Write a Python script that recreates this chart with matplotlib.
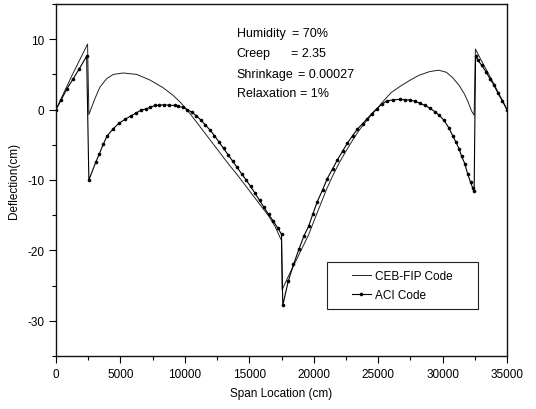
import matplotlib
matplotlib.use("Agg")
import matplotlib.pyplot as plt
from matplotlib.ticker import MultipleLocator
from matplotlib.patches import Rectangle

plt.rcParams['font.family'] = ['Liberation Sans', 'DejaVu Sans']
plt.rcParams['axes.unicode_minus'] = False

# ---- data ----
ceb_x = [0, 1200, 2450, 2550, 3030, 3410, 3930, 4450, 5220, 6260, 7290, 8320, 9100,
         9620, 10000, 10500, 11000, 11500, 12000, 12500, 13000, 13500, 14000, 14500,
         15000, 15500, 16000, 16500, 17000, 17500, 17550, 18000, 18400, 18800, 19200,
         19600, 20000, 20500, 21000, 21500, 22000, 22500, 23000, 23500, 24000, 24500,
         25000, 25500, 26000, 26700, 27500, 28200, 29000, 29700, 30300, 30800, 31300,
         31700, 32000, 32250, 32450, 32550, 33000, 34000, 35000]
ceb_y = [0, 4.7, 9.3, -0.7, 1.6, 3.2, 4.4, 5.0, 5.2, 5.0, 4.2, 3.1, 2.0,
         1.1, 0.3, -0.8, -2.0, -3.2, -4.4, -5.6, -6.8, -8.0, -9.1, -10.3,
         -11.5, -12.7, -13.9, -15.1, -16.6, -18.6, -25.6, -23.8, -22.3, -20.8, -19.3,
         -17.8, -15.9, -13.6, -11.3, -9.3, -7.5, -5.9, -4.4, -3.0, -1.8, -0.7,
         0.3, 1.4, 2.4, 3.3, 4.2, 4.9, 5.4, 5.6, 5.3, 4.5, 3.4,
         2.2, 1.0, -0.2, -0.8, 8.6, 7.0, 3.6, 0]

aci_x = [0, 410, 830, 1340, 1810, 2380, 2550, 3080, 3360, 3670, 3980, 4450, 4910,
         5350, 5800, 6210, 6570, 6980, 7290, 7680, 8010, 8400, 8790, 9230, 9490,
         9850, 10200, 10550, 10900, 11250, 11600, 11950, 12300, 12650, 13000, 13350,
         13700, 14050, 14400, 14750, 15100, 15450, 15800, 16150, 16500, 16850, 17200,
         17500, 17600, 18020, 18430, 18860, 19250, 19600, 19920, 20270, 20690, 21050,
         21470, 21820, 22240, 22600, 23020, 23380, 23790, 24150, 24490, 24880, 25270,
         25660, 26170, 26690, 27080, 27460, 27850, 28240, 28630, 29020, 29400, 29740,
         30100, 30490, 30780, 31030, 31290, 31470, 31730, 31940, 32170, 32330, 32450,
         32560, 32760, 33030, 33360, 33670, 33980, 34310, 34650, 35000]
aci_y = [0, 1.4, 2.9, 4.4, 5.8, 7.6, -10.0, -7.5, -6.3, -4.9, -3.7, -2.7, -1.9,
         -1.4, -0.9, -0.5, -0.1, 0.1, 0.3, 0.6, 0.6, 0.7, 0.6, 0.6, 0.5,
         0.3, 0.0, -0.4, -0.9, -1.5, -2.2, -2.9, -3.7, -4.6, -5.5, -6.4,
         -7.3, -8.2, -9.1, -10.0, -10.9, -11.9, -12.9, -13.9, -14.9, -15.8, -16.8,
         -17.7, -27.8, -24.4, -22.0, -19.8, -17.9, -16.6, -14.9, -13.1, -11.4, -9.8,
         -8.4, -7.2, -5.9, -4.8, -3.7, -2.8, -2.0, -1.3, -0.6, 0.1, 0.75,
         1.2, 1.4, 1.45, 1.4, 1.35, 1.2, 0.9, 0.6, 0.2, -0.3, -0.8,
         -1.5, -2.6, -3.7, -4.6, -5.6, -6.6, -7.7, -9.1, -10.3, -11.1, -11.6,
         7.6, 7.0, 6.3, 5.4, 4.4, 3.5, 2.3, 1.2, 0]

legend_labels = ["CEB-FIP Code", "ACI Code"]
param_names = ["Humidity", "Creep", "Shrinkage", "Relaxation"]
param_values = ["= 70%", "= 2.35", "= 0.00027", "= 1%"]
x_ticks = [0, 5000, 10000, 15000, 20000, 25000, 30000, 35000]
y_ticks = [-30, -20, -10, 0, 10]

# ---- figure ----
fig = plt.figure(figsize=(5.36, 4.10), dpi=100)
ax = fig.add_axes([56/536, 1 - 357/410, (507 - 56)/536, (357 - 5)/410])

l1, = ax.plot(ceb_x, ceb_y, color='#222222', lw=0.7)
l2, = ax.plot(aci_x, aci_y, color='black', lw=0.8, marker='o', ms=2.6,
              markeredgewidth=0)

ax.set_xlim(0, 35000)
ax.set_ylim(-35, 15)
ax.set_xticks(x_ticks)
ax.set_yticks(y_ticks)
ax.xaxis.set_minor_locator(MultipleLocator(2500))
ax.yaxis.set_minor_locator(MultipleLocator(5))
ax.tick_params(which='both', direction='out', top=False, right=False,
               labelsize=8.5, width=0.8, color='black')
ax.tick_params(which='major', length=5)
ax.tick_params(which='minor', length=3)
for s in ax.spines.values():
    s.set_linewidth(1.0)
    s.set_color('#111111')

ax.set_xlabel("Span Location (cm)", fontsize=8.5, labelpad=5)
ax.set_ylabel("Deflection(cm)", fontsize=8.5, labelpad=5)

# parameter annotations
row_y = [0.918, 0.861, 0.801, 0.747]
val_x = [0.524, 0.522, 0.537, 0.542]
for name, val, yy, vx in zip(param_names, param_values, row_y, val_x):
    ax.text(0.401, yy, name, transform=ax.transAxes, fontsize=9, va='center',
            ha='left')
    ax.text(vx, yy, val, transform=ax.transAxes, fontsize=9, va='center',
            ha='left')

# legend with a separate frame
fx0, fy0 = (327 - 56)/451, 1 - (310 - 5)/352
fw, fh = (478 - 327)/451, (310 - 263)/352
ax.add_patch(Rectangle((fx0, fy0), fw, fh, transform=ax.transAxes,
                       fill=False, edgecolor='#222222', lw=0.8, zorder=5))
leg = ax.legend([l1, l2], legend_labels, loc='center',
                bbox_to_anchor=(fx0, fy0, fw, fh), frameon=False,
                fontsize=8.5, handlelength=1.6, handletextpad=0.4,
                labelspacing=0.55, numpoints=1, borderpad=0.2)

fig.savefig("out.png", dpi=100)
